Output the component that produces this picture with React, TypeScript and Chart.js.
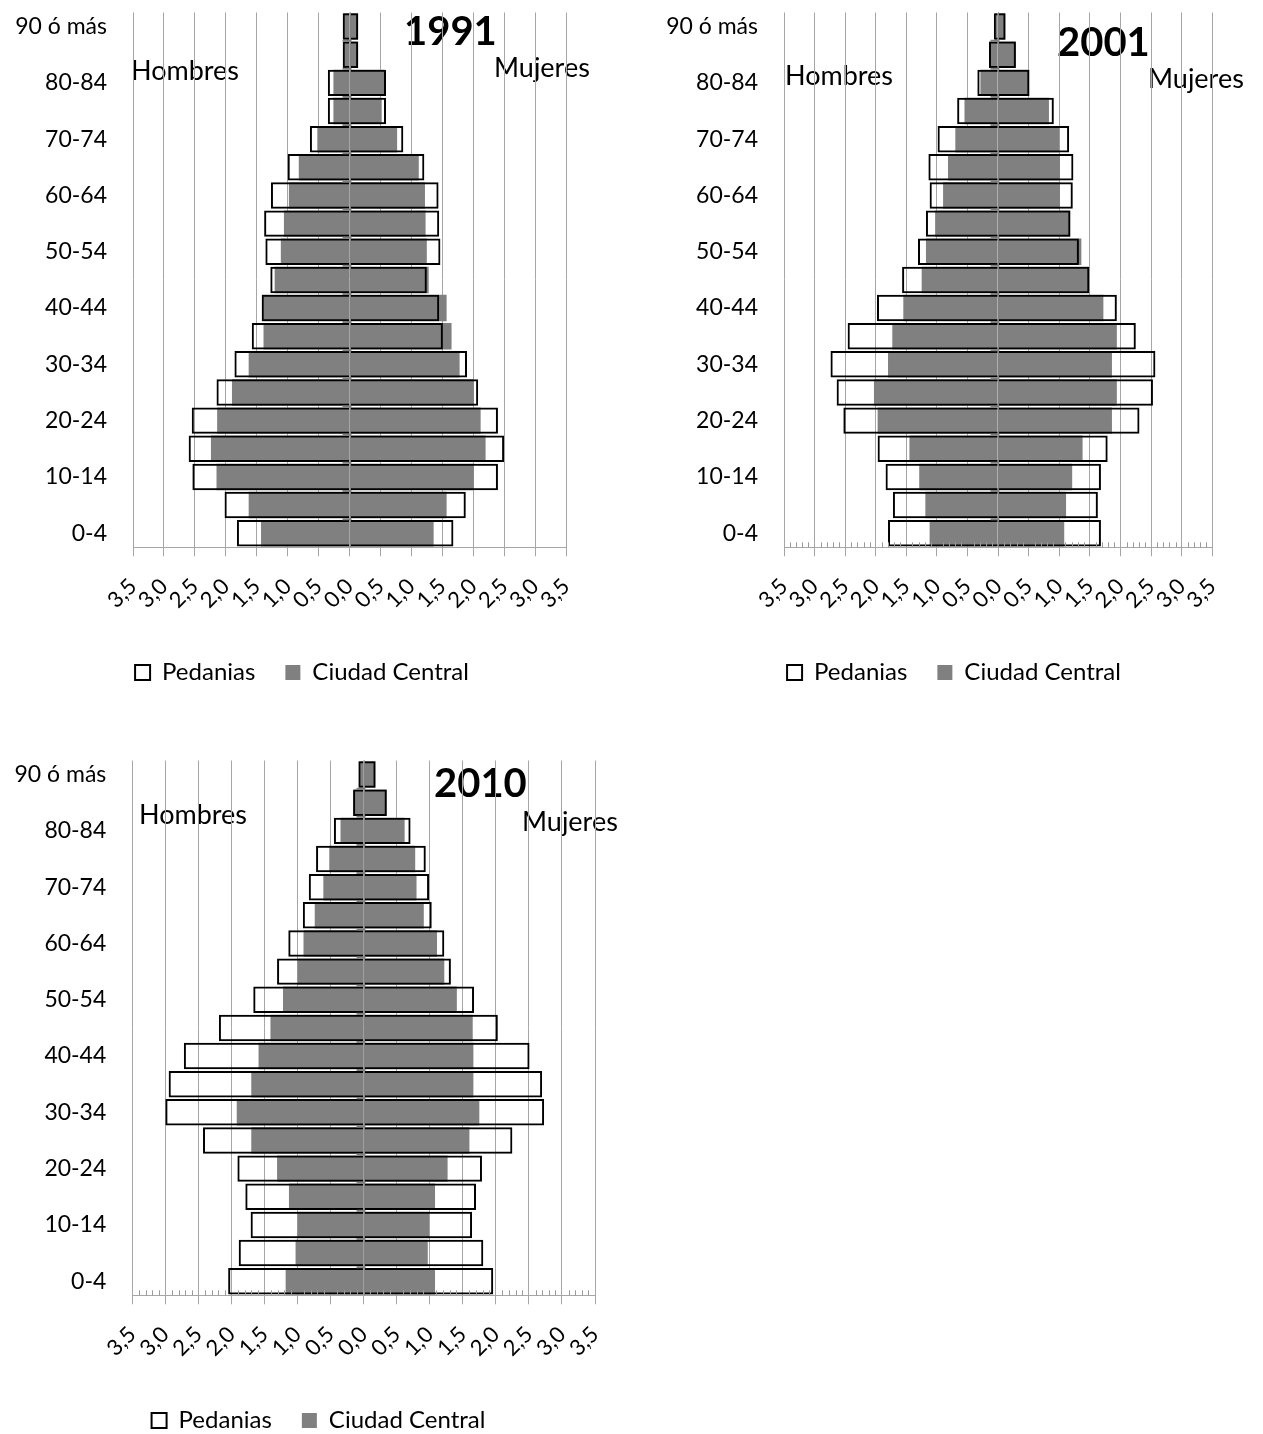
import React, { useEffect, useRef } from "react";
import { Chart, registerables } from "chart.js";

Chart.register(...registerables);

// ---- Data ----
const ageGroups = [
  "0-4", "5-9", "10-14", "15-19", "20-24", "25-29", "30-34", "35-39", "40-44",
  "45-49", "50-54", "55-59", "60-64", "65-69", "70-74", "75-79", "80-84", "85-89", "90 ó más",
];

const xTickValues = [-3.5, -3, -2.5, -2, -1.5, -1, -0.5, 0, 0.5, 1, 1.5, 2, 2.5, 3, 3.5];

const seriesNames = ["Pedanias", "Ciudad Central"];

// 1991
const men1991Pedanias = [1.82, 2.02, 2.54, 2.60, 2.55, 2.15, 1.86, 1.58, 1.42, 1.28, 1.36, 1.38, 1.27, 1.00, 0.64, 0.35, 0.35, 0.11, 0.11];
const men1991Central = [1.43, 1.63, 2.15, 2.24, 2.14, 1.90, 1.63, 1.39, 1.41, 1.21, 1.11, 1.06, 0.98, 0.82, 0.52, 0.26, 0.26, 0.10, 0.10];
const women1991Central = [1.36, 1.57, 2.01, 2.20, 2.12, 2.01, 1.78, 1.65, 1.57, 1.28, 1.25, 1.23, 1.22, 1.12, 0.77, 0.52, 0.57, 0.14, 0.14];
const women1991Pedanias = [1.68, 1.88, 2.40, 2.50, 2.40, 2.08, 1.90, 1.51, 1.45, 1.25, 1.47, 1.45, 1.44, 1.21, 0.87, 0.59, 0.59, 0.14, 0.14];

// 2001
const men2001Pedanias = [1.80, 1.72, 1.84, 1.97, 2.53, 2.64, 2.74, 2.46, 1.98, 1.57, 1.31, 1.18, 1.12, 1.14, 0.99, 0.67, 0.34, 0.15, 0.07];
const men2001Central = [1.12, 1.19, 1.29, 1.45, 1.97, 2.03, 1.80, 1.73, 1.55, 1.25, 1.18, 1.03, 0.90, 0.82, 0.70, 0.55, 0.29, 0.14, 0.05];
const women2001Central = [1.08, 1.11, 1.21, 1.38, 1.86, 1.94, 1.86, 1.94, 1.72, 1.49, 1.36, 1.18, 1.01, 1.01, 1.00, 0.83, 0.51, 0.29, 0.12];
const women2001Pedanias = [1.68, 1.63, 1.68, 1.79, 2.31, 2.53, 2.57, 2.25, 1.94, 1.49, 1.32, 1.18, 1.22, 1.23, 1.16, 0.91, 0.51, 0.29, 0.12];

// 2010
const men2010Pedanias = [2.05, 1.89, 1.71, 1.79, 1.91, 2.43, 3.00, 2.95, 2.72, 2.19, 1.67, 1.31, 1.14, 0.92, 0.83, 0.72, 0.45, 0.16, 0.08];
const men2010Central = [1.18, 1.03, 1.00, 1.13, 1.31, 1.70, 1.92, 1.70, 1.59, 1.41, 1.22, 1.00, 0.91, 0.74, 0.61, 0.52, 0.35, 0.15, 0.07];
const women2010Central = [1.08, 0.97, 0.99, 1.08, 1.27, 1.60, 1.75, 1.66, 1.66, 1.65, 1.41, 1.22, 1.11, 0.91, 0.80, 0.78, 0.62, 0.35, 0.18];
const women2010Pedanias = [1.96, 1.81, 1.64, 1.70, 1.79, 2.25, 2.73, 2.70, 2.51, 2.03, 1.67, 1.32, 1.22, 1.03, 0.99, 0.94, 0.71, 0.35, 0.18];

const FONT = "Lato, 'Open Sans', sans-serif";

const extrasPlugin = {
  id: "pyramidExtras",
  beforeDraw(chart: any, _args: any, opts: any) {
    const ctx = chart.ctx;
    ctx.save();
    ctx.fillStyle = "#000";
    ctx.textAlign = "left";
    ctx.textBaseline = "alphabetic";
    for (const t of opts.texts || []) {
      ctx.font = t.font;
      ctx.fillText(t.text, t.x, t.y);
    }
    ctx.restore();
  },
  afterDatasetsDraw(chart: any, _args: any, opts: any) {
    const { ctx, chartArea } = chart;
    const xs = chart.scales.x;
    const ys = chart.scales.y;
    const x0 = Math.round(xs.getPixelForValue(0)) + 0.5;
    ctx.save();
    if (opts.minorTicks) {
      ctx.strokeStyle = "#9a9a9a";
      ctx.lineWidth = 1;
      ctx.beginPath();
      for (let k = -35; k <= 35; k++) {
        if (k % 5 === 0) continue;
        const px = Math.round(xs.getPixelForValue(k / 10)) + 0.5;
        ctx.moveTo(px, chartArea.bottom);
        ctx.lineTo(px, chartArea.bottom - 5);
      }
      ctx.stroke();
    }
    ctx.strokeStyle = "#808080";
    ctx.lineWidth = 1;
    ctx.beginPath();
    ctx.moveTo(x0, chartArea.top);
    ctx.lineTo(x0, chartArea.bottom);
    ctx.stroke();
    ctx.lineWidth = 2;
    ctx.beginPath();
    for (let i = 1; i < ageGroups.length; i++) {
      const py = (ys.getPixelForValue(i) + ys.getPixelForValue(i - 1)) / 2;
      ctx.moveTo(x0 - 8, py);
      ctx.lineTo(x0 + 1, py);
    }
    ctx.stroke();
    ctx.restore();
  },
};

type PyramidProps = {
  menP: number[];
  menC: number[];
  womenC: number[];
  womenP: number[];
  year: string;
  left: number;
  top: number;
  width: number;
  height: number;
  pr: number;
  spacer: number;
  yW: number;
  minorTicks: boolean;
  yearPos: [number, number];
  hombresPos: [number, number];
  mujeresPos: [number, number];
};

function Pyramid(p: PyramidProps) {
  const ref = useRef<HTMLCanvasElement | null>(null);
  useEffect(() => {
    if (!ref.current) return;
    let chart: any = null;
    let cancelled = false;
    const make = () => {
      if (cancelled || !ref.current) return;
      chart = new Chart(ref.current, {
        type: "bar",
        data: {
          labels: ageGroups,
          datasets: [
            { label: seriesNames[0], data: p.menP.map((v) => -v), backgroundColor: "rgba(255,255,255,0)", borderColor: "#000", borderWidth: 2 },
            { label: seriesNames[0], data: p.womenP, backgroundColor: "rgba(255,255,255,0)", borderColor: "#000", borderWidth: 2 },
            { label: seriesNames[1], data: p.menC.map((v) => -v), backgroundColor: "#808080", borderWidth: 0 },
            { label: seriesNames[1], data: p.womenC, backgroundColor: "#808080", borderWidth: 0 },
          ],
        },
        options: {
          indexAxis: "y",
          responsive: false,
          animation: false,
          devicePixelRatio: 1,
          layout: { padding: { left: 0, right: p.pr, top: 12.5, bottom: 5.5 } },
          datasets: { bar: { grouped: false, barPercentage: 0.94, categoryPercentage: 1 } },
          scales: {
            x: {
              type: "linear",
              min: xTickValues[0],
              max: xTickValues[xTickValues.length - 1],
              afterFit: (s: any) => { s.height = 83.2; },
              afterBuildTicks: (s: any) => { s.ticks = xTickValues.map((v) => ({ value: v })); },
              ticks: {
                autoSkip: false,
                maxRotation: 45,
                minRotation: 45,
                padding: 17,
                color: "#000",
                font: { family: FONT, size: 22 },
                callback: (v: any) => Math.abs(Number(v)).toFixed(1).replace(".", ","),
              },
              grid: { color: "#a6a6a6", lineWidth: 1, tickLength: 9 },
              border: { color: "#a6a6a6", width: 1 },
            },
            y: {
              type: "category",
              reverse: true,
              afterFit: (s: any) => { s.width = p.yW; },
              grid: { display: true, color: "rgba(0,0,0,0)", drawOnChartArea: false, drawTicks: true, tickLength: 26 },
              border: { display: false },
              ticks: {
                autoSkip: false,
                padding: 0,
                color: "#000",
                font: { family: FONT, size: 23, lineHeight: 1 },
                callback: (_v: any, i: number) => (i % 2 === 0 ? ageGroups[i] : ""),
              },
            },
            spacer: {
              type: "linear",
              axis: "y",
              position: "right",
              display: true,
              afterFit: (s: any) => { s.width = p.spacer; },
              grid: { display: false, drawTicks: false },
              border: { display: false },
              ticks: { display: false },
            },
          },
          plugins: {
            tooltip: { enabled: false },
            legend: {
              position: "bottom",
              labels: {
                color: "#000",
                font: { family: FONT, size: 24 },
                boxWidth: 15,
                boxHeight: 15,
                padding: 30,
                filter: (item: any) => item.datasetIndex === 0 || item.datasetIndex === 2,
              },
            },
            pyramidExtras: {
              minorTicks: p.minorTicks,
              texts: [
                { text: p.year, x: p.yearPos[0], y: p.yearPos[1], font: `bold 40px ${FONT}` },
                { text: "Hombres", x: p.hombresPos[0], y: p.hombresPos[1], font: `27px ${FONT}` },
                { text: "Mujeres", x: p.mujeresPos[0], y: p.mujeresPos[1], font: `27px ${FONT}` },
              ],
            },
          },
        } as any,
        plugins: [extrasPlugin as any],
      });
    };
    const fontsReady = (document as any).fonts
      ? Promise.all([
          (document as any).fonts.load(`24px Lato`),
          (document as any).fonts.load(`bold 40px Lato`),
        ]).catch(() => null)
      : Promise.resolve(null);
    fontsReady.then(make);
    return () => {
      cancelled = true;
      if (chart) chart.destroy();
    };
  }, []);
  return (
    <div style={{ position: "absolute", left: p.left, top: p.top, width: p.width, height: p.height }}>
      <canvas ref={ref} width={p.width} height={p.height} style={{ display: "block", width: p.width, height: p.height }} />
    </div>
  );
}

export default function App() {
  return (
    <div style={{ position: "absolute", left: 0, top: 0, width: 1263, height: 1434, overflow: "hidden", background: "#fff" }}>
      <Pyramid
        menP={men1991Pedanias} menC={men1991Central} womenC={women1991Central} womenP={women1991Pedanias}
        year="1991" left={0} top={0} width={620} height={700} pr={16} spacer={38} yW={133} minorTicks={false}
        yearPos={[404, 45]} hombresPos={[131, 80]} mujeresPos={[494, 77]}
      />
      <Pyramid
        menP={men2001Pedanias} menC={men2001Central} womenC={women2001Central} womenP={women2001Pedanias}
        year="2001" left={640} top={0} width={640} height={700} pr={12} spacer={55.7} yW={144} minorTicks={true}
        yearPos={[417, 56]} hombresPos={[145, 85]} mujeresPos={[508, 88]}
      />
      <Pyramid
        menP={men2010Pedanias} menC={men2010Central} womenC={women2010Central} womenP={women2010Pedanias}
        year="2010" left={0} top={748} width={645} height={700} pr={8} spacer={42} yW={132.3} minorTicks={true}
        yearPos={[434, 49]} hombresPos={[139, 76]} mujeresPos={[522, 83]}
      />
    </div>
  );
}
